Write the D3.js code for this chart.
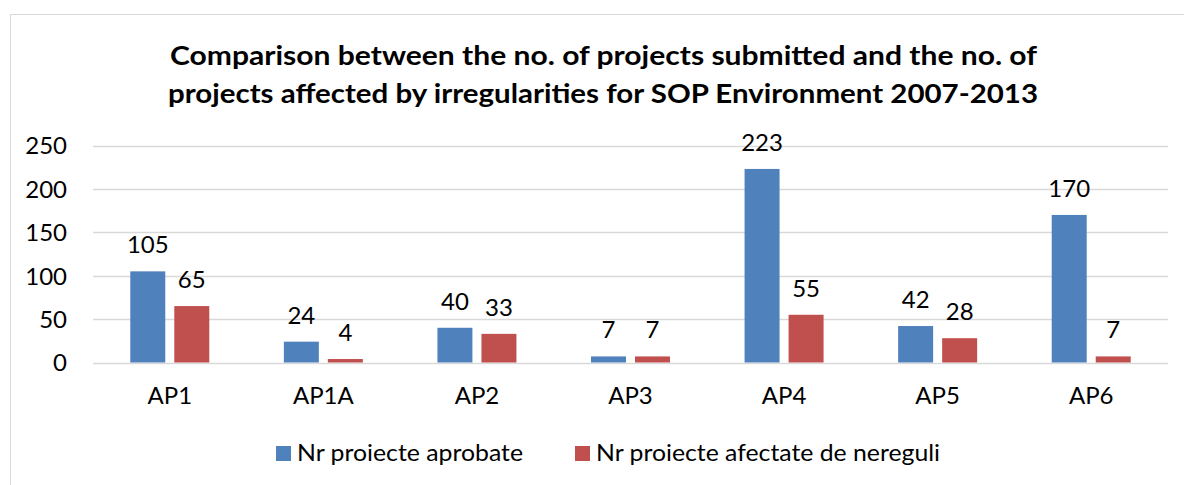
<!DOCTYPE html>
<html>
<head>
<meta charset="utf-8">
<script src="https://cdn.jsdelivr.net/npm/d3@7"></script>
<style>
  body { margin: 0; background: #fff; }
  svg { display: block; font-family: Lato, "Open Sans", sans-serif; }
</style>
</head>
<body>
<svg id="chart" width="1184" height="485"></svg>
<script>
  // data
  var categories = ['AP1', 'AP1A', 'AP2', 'AP3', 'AP4', 'AP5', 'AP6'];
  var seriesNames = ['Nr proiecte aprobate', 'Nr proiecte afectate de nereguli'];
  var approved = [105, 24, 40, 7, 223, 42, 170];
  var irregular = [65, 4, 33, 7, 55, 28, 7];
  var yTicks = [0, 50, 100, 150, 200, 250];
  var titleLines = [
    'Comparison between the no. of projects submitted and the no. of',
    'projects affected by irregularities for SOP Environment 2007-2013'
  ];

  var colors = ['#4F81BD', '#C0504D'];
  var svg = d3.select('#chart');

  // outer border
  svg.append('rect')
    .attr('x', 10.5).attr('y', 14.5)
    .attr('width', 1200).attr('height', 500)
    .attr('fill', 'none').attr('stroke', '#D9D9D9');

  // title (widths stretched to match the original Calibri run)
  var titleWidths = [867, 870];
  svg.append('g').selectAll('text')
    .data(titleLines)
    .join('text')
    .attr('x', function (d, i) { return i === 0 ? 603.5 : 603; })
    .attr('y', function (d, i) { return 65 + i * 38; })
    .attr('text-anchor', 'middle')
    .attr('font-size', 26)
    .attr('font-weight', 'bold')
    .attr('fill', '#000')
    .attr('textLength', function (d, i) { return titleWidths[i]; })
    .attr('lengthAdjust', 'spacingAndGlyphs')
    .text(function (d) { return d; });

  // scales
  var x0 = d3.scaleBand().domain(categories).range([93, 1168]);
  var x1 = d3.scaleBand().domain([0, 1]).range([0, 79]).paddingInner(0.205);
  var y = d3.scaleLinear().domain([0, 250]).range([362.5, 145.5]);

  // gridlines
  svg.append('g').selectAll('line')
    .data(yTicks)
    .join('line')
    .attr('x1', 93).attr('x2', 1168)
    .attr('y1', function (d) { return Math.round(y(d)) + 0.5; })
    .attr('y2', function (d) { return Math.round(y(d)) + 0.5; })
    .attr('stroke', '#D9D9D9').attr('stroke-width', 1.5);

  // y axis labels
  var yAxis = d3.axisLeft(y).tickValues(yTicks).tickSize(0).tickPadding(0);
  var yG = svg.append('g').attr('transform', 'translate(67,0)').call(yAxis);
  yG.select('.domain').remove();
  yG.selectAll('text').attr('font-size', 24).attr('fill', '#000')
    .attr('font-family', 'Lato, sans-serif').attr('dy', '0.35em');

  // x axis labels
  var xAxis = d3.axisBottom(x0).tickSize(0).tickPadding(0);
  var xG = svg.append('g').attr('transform', 'translate(0,396)').call(xAxis);
  xG.select('.domain').remove();
  xG.selectAll('text').attr('font-size', 24).attr('fill', '#000')
    .attr('font-family', 'Lato, sans-serif').attr('dy', '0.35em');

  // bars
  var rows = categories.map(function (c, i) {
    return { cat: c, vals: [approved[i], irregular[i]] };
  });
  var groups = svg.append('g').selectAll('g')
    .data(rows)
    .join('g')
    .attr('transform', function (d) {
      return 'translate(' + (x0(d.cat) + x0.bandwidth() / 2 - 39.5) + ',0)';
    });

  groups.selectAll('rect')
    .data(function (d) { return d.vals; })
    .join('rect')
    .attr('x', function (d, i) { return x1(i); })
    .attr('y', function (d) { return y(d); })
    .attr('width', x1.bandwidth())
    .attr('height', function (d) { return y(0) - y(d); })
    .attr('fill', function (d, i) { return colors[i]; });

  groups.selectAll('text')
    .data(function (d) { return d.vals; })
    .join('text')
    .attr('x', function (d, i) { return x1(i) + x1.bandwidth() / 2; })
    .attr('y', function (d) { return y(d) - 18; })
    .attr('text-anchor', 'middle')
    .attr('font-size', 24)
    .attr('fill', '#000')
    .text(function (d) { return d; });

  // legend
  var legendX = [276, 575];
  var legendWidths = [226, 344];
  var legend = svg.append('g').selectAll('g')
    .data(seriesNames)
    .join('g')
    .attr('transform', function (d, i) { return 'translate(' + legendX[i] + ',446)'; });
  legend.append('rect')
    .attr('width', 15).attr('height', 15)
    .attr('fill', function (d, i) { return colors[i]; });
  legend.append('text')
    .attr('x', 21).attr('y', 15)
    .attr('font-size', 23).attr('fill', '#000')
    .attr('textLength', function (d, i) { return legendWidths[i]; })
    .attr('lengthAdjust', 'spacingAndGlyphs')
    .text(function (d) { return d; });
</script>
</body>
</html>
